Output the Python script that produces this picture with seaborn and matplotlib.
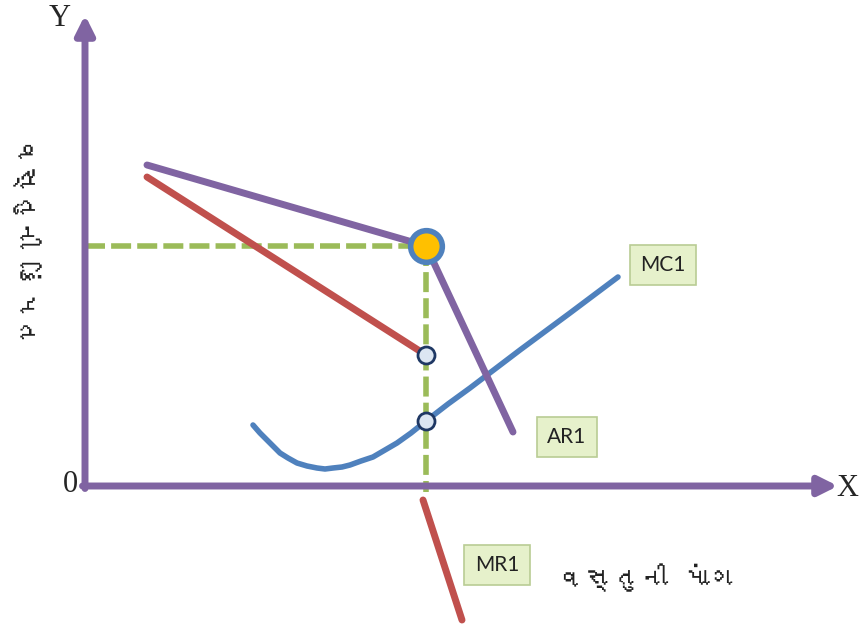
import numpy as np
import pandas as pd
import matplotlib
matplotlib.use('Agg')
import matplotlib.pyplot as plt
from matplotlib import font_manager, ft2font
import seaborn as sns

# kinked demand curve (data units: quantity / price)
ar_x = [6.2, 34.1, 42.8]
ar_y = [32.1, 24.0, 5.4]

mr_top_x = [6.2, 34.1]
mr_top_y = [30.9, 13.1]
mr_low_x = [33.8, 37.7]
mr_low_y = [-1.4, -13.4]

mc_x = [16.8, 17.5, 18.2, 18.9, 19.5, 20.3, 21.2, 22.2, 23.2, 24.0, 24.8, 25.7, 26.5,
        27.6, 28.8, 30.0, 31.2, 32.6, 34.1, 36.3, 38.5, 43.5, 48.5, 53.3]
mc_y = [6.1, 5.3, 4.6, 3.9, 3.3, 2.8, 2.3, 2.0, 1.8, 1.7, 1.8, 1.9, 2.1,
        2.5, 2.9, 3.6, 4.3, 5.3, 6.5, 8.2, 9.8, 13.6, 17.3, 20.9]

kink = (34.1, 24.0)
small_pts_x = [34.1, 34.1]
small_pts_y = [13.1, 6.5]

labels = ['MC1', 'AR1', 'MR1']
label_x = [57.8, 48.2, 41.2]
label_y = [22.1, 4.9, -7.9]

x_title = 'વસ્તુની માંગ'
y_title = 'વસ્તુની કિંમત'

purple = '#8064A2'
red = '#C0504D'
blue = '#4F81BD'
green = '#9BBB59'


def font_with(ch):
    # look for any installed font that has a glyph for ch
    for f in font_manager.fontManager.ttflist:
        try:
            if ord(ch) in ft2font.FT2Font(f.fname).get_charmap():
                return f.name
        except Exception:
            pass
    return None


guj = font_with('ક')
guj_family = [guj, 'DejaVu Sans'] if guj else ['DejaVu Sans']

sns.set_style('white')
fig = plt.figure(figsize=(8.59, 6.31), dpi=100)
ax = fig.add_axes([0, 0, 1, 1])
ax.set_xlim(-8.5, 77.4)
ax.set_ylim(-14.5, 48.6)
ax.axis('off')

# axes with arrows
ax.annotate('', xy=(75.3, 0), xytext=(-0.25, 0),
            arrowprops=dict(arrowstyle='-|>', lw=5, color=purple, mutation_scale=28, shrinkA=0, shrinkB=0))
ax.annotate('', xy=(0, 47.1), xytext=(0, -0.25),
            arrowprops=dict(arrowstyle='-|>', lw=5, color=purple, mutation_scale=28, shrinkA=0, shrinkB=0))

# dashed guides
dash = (0, (3.6, 1.1))
ax.plot([0, kink[0]], [kink[1], kink[1]], color=green, lw=4, ls=dash, zorder=1)
ax.plot([kink[0], kink[0]], [kink[1], -0.6], color=green, lw=4, ls=dash, zorder=1)

sns.lineplot(x=mr_top_x, y=mr_top_y, ax=ax, color=red, lw=5, sort=False, zorder=2)
sns.lineplot(x=mr_low_x, y=mr_low_y, ax=ax, color=red, lw=5, sort=False, zorder=2)
sns.lineplot(x=mc_x, y=mc_y, ax=ax, color=blue, lw=4, sort=False, zorder=2)
sns.lineplot(x=ar_x, y=ar_y, ax=ax, color=purple, lw=5, sort=False, zorder=3)

ax.scatter(small_pts_x, small_pts_y, s=150, color='#DCE6F2', edgecolor='#1F3864', lw=2, zorder=5)
ax.scatter([kink[0]], [kink[1]], s=520, color='#FFC000', edgecolor=blue, lw=4, zorder=6)

for t, x, y in zip(labels, label_x, label_y):
    ax.text(x, y, t, ha='center', va='center', fontsize=15, family='Lato', color='#222222',
            bbox=dict(boxstyle='square,pad=0.5', fc='#E6F1CB', ec='#B9CC94', lw=1.2), zorder=7)

serif = 'Liberation Serif'
ax.text(-2.5, 46.7, 'Y', fontsize=22, family=serif, ha='center', va='center')
ax.text(-1.5, 0.2, '0', fontsize=22, family=serif, ha='center', va='center')
ax.text(76.2, -0.2, 'X', fontsize=22, family=serif, ha='center', va='center')

ax.text(56.2, -9.2, x_title, fontsize=20, ha='center', va='center', family=guj_family, color='#222222')
ax.text(-5.9, 24.5, y_title, fontsize=20, ha='center', va='center', rotation=270,
        family=guj_family, color='#222222')

fig.savefig('out.png', dpi=100)
